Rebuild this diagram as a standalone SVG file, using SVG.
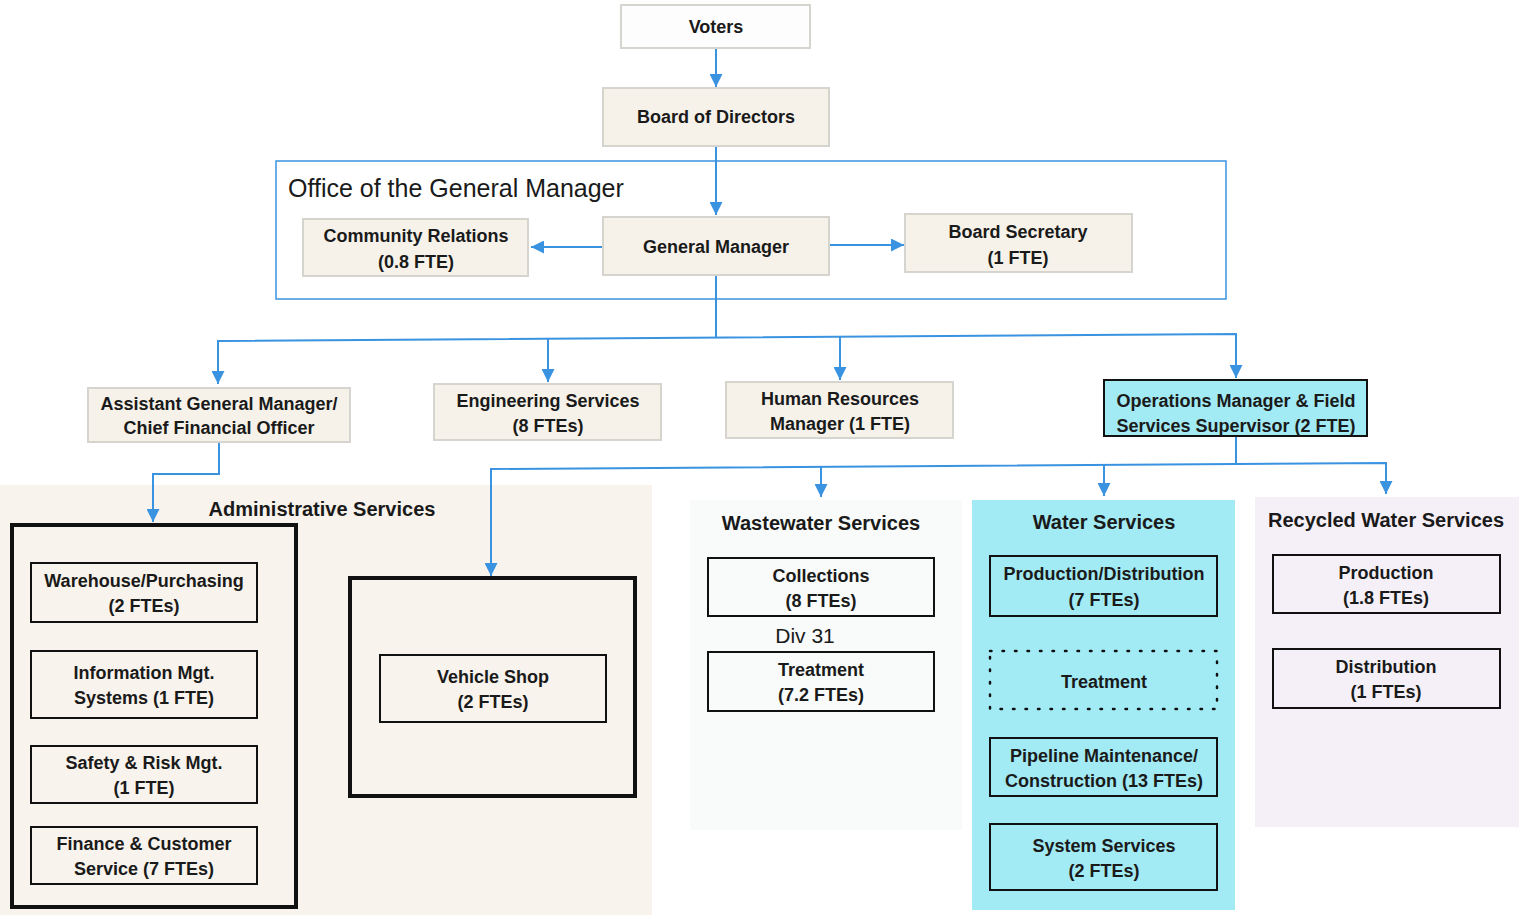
<svg xmlns="http://www.w3.org/2000/svg" width="1522" height="915" viewBox="0 0 1522 915">
<defs>
<style>
text{font-family:"Liberation Sans",Arial,sans-serif;fill:#1a1a1a;text-anchor:middle}
.b{font-weight:bold;font-size:18px}
.t{font-weight:bold;font-size:20px}
.top{fill:#f6f2ea;stroke:#d6d4cf;stroke-width:2}
.blk{fill:none;stroke:#111;stroke-width:2}
.thick{fill:none;stroke:#111;stroke-width:4}
.con{fill:none;stroke:#3a93e0;stroke-width:2}
</style>
<marker id="ah" viewBox="0 0 10 10" refX="10" refY="5" markerWidth="6.5" markerHeight="6.5" markerUnits="strokeWidth" orient="auto">
<path d="M0,0 L10,5 L0,10 z" fill="#3a93e0"/>
</marker>
</defs>
<rect width="1522" height="915" fill="#ffffff"/>

<g id="panels">
<rect x="0" y="485" width="652" height="430" fill="#f8f3ec"/>
<rect x="690" y="500" width="272" height="330" fill="#f8fbf9"/>
<rect x="972" y="500" width="263" height="410" fill="#a2eaf4"/>
<rect x="1255" y="497" width="264" height="330" fill="#f5f0f8"/>
</g>

<g id="office">
<rect x="276" y="161" width="950" height="138" fill="none" stroke="#3a93e0" stroke-width="1.5"/>
<text x="288" y="197" style="text-anchor:start;font-size:25px">Office of the General Manager</text>
</g>

<g id="connectors">
<path class="con" d="M716,48 V87" marker-end="url(#ah)"/>
<path class="con" d="M716,146 V215" marker-end="url(#ah)"/>
<path class="con" d="M603,247 H531" marker-end="url(#ah)"/>
<path class="con" d="M829,245 H904" marker-end="url(#ah)"/>
<path class="con" d="M716,275 V337"/>
<path class="con" d="M218,384 V341 L1236,334 V378" marker-end="url(#ah)"/>
<path class="con" d="M218,341 V384" marker-end="url(#ah)"/>
<path class="con" d="M548,339 V382" marker-end="url(#ah)"/>
<path class="con" d="M840,337 V380" marker-end="url(#ah)"/>
<path class="con" d="M219,442 V474 H153 V522" marker-end="url(#ah)"/>
<path class="con" d="M1236,436 V463"/>
<path class="con" d="M491,576 V469 L1386,463 V494" marker-end="url(#ah)"/>
<path class="con" d="M491,469 V576" marker-end="url(#ah)"/>
<path class="con" d="M821,467 V497" marker-end="url(#ah)"/>
<path class="con" d="M1104,465 V496" marker-end="url(#ah)"/>
</g>

<g id="voters"><rect x="621" y="5" width="189" height="43" fill="#fdfdfd" stroke="#d6d4cf" stroke-width="2"/><text class="b" x="716" y="33">Voters</text></g>
<g id="board"><rect class="top" x="603" y="88" width="226" height="58"/><text class="b" x="716" y="123">Board of Directors</text></g>
<g id="community"><rect class="top" x="303" y="219" width="225" height="57"/><text class="b" x="416" y="242">Community Relations</text><text class="b" x="416" y="268">(0.8 FTE)</text></g>
<g id="gm"><rect class="top" x="603" y="217" width="226" height="58"/><text class="b" x="716" y="253">General Manager</text></g>
<g id="secretary"><rect class="top" x="905" y="214" width="227" height="58"/><text class="b" x="1018" y="238">Board Secretary</text><text class="b" x="1018" y="264">(1 FTE)</text></g>

<g id="agm"><rect class="top" x="88" y="388" width="262" height="54"/><text class="b" x="219" y="410">Assistant General Manager/</text><text class="b" x="219" y="434">Chief Financial Officer</text></g>
<g id="engineering"><rect class="top" x="434" y="384" width="227" height="56"/><text class="b" x="548" y="407">Engineering Services</text><text class="b" x="548" y="432">(8 FTEs)</text></g>
<g id="hr"><rect class="top" x="726" y="382" width="227" height="56"/><text class="b" x="840" y="405">Human Resources</text><text class="b" x="840" y="430">Manager (1 FTE)</text></g>
<g id="ops"><rect x="1104" y="380" width="263" height="56" fill="#a2eaf4" stroke="#111" stroke-width="2"/><text class="b" x="1236" y="407">Operations Manager &amp; Field</text><text class="b" x="1236" y="432">Services Supervisor (2 FTE)</text></g>

<g id="admin">
<text class="t" x="322" y="516">Administrative Services</text>
<rect class="thick" x="12" y="525" width="284" height="382"/>
</g>
<g id="warehouse"><rect class="blk" x="31" y="563" width="226" height="59"/><text class="b" x="144" y="587">Warehouse/Purchasing</text><text class="b" x="144" y="612">(2 FTEs)</text></g>
<g id="ims"><rect class="blk" x="31" y="651" width="226" height="67"/><text class="b" x="144" y="679">Information Mgt.</text><text class="b" x="144" y="704">Systems (1 FTE)</text></g>
<g id="safety"><rect class="blk" x="31" y="746" width="226" height="57"/><text class="b" x="144" y="769">Safety &amp; Risk Mgt.</text><text class="b" x="144" y="794">(1 FTE)</text></g>
<g id="finance"><rect class="blk" x="31" y="827" width="226" height="57"/><text class="b" x="144" y="850">Finance &amp; Customer</text><text class="b" x="144" y="875">Service (7 FTEs)</text></g>

<g id="vehicle">
<rect class="thick" x="350" y="578" width="285" height="218"/>
<rect class="blk" x="380" y="655" width="226" height="67"/>
<text class="b" x="493" y="683">Vehicle Shop</text><text class="b" x="493" y="708">(2 FTEs)</text>
</g>

<g id="wastewater">
<text class="t" x="821" y="530">Wastewater Services</text>
<text x="805" y="643" style="font-size:21px">Div 31</text>
</g>
<g id="collections"><rect class="blk" x="708" y="558" width="226" height="58"/><text class="b" x="821" y="582">Collections</text><text class="b" x="821" y="607">(8 FTEs)</text></g>
<g id="ww-treatment"><rect class="blk" x="708" y="652" width="226" height="59"/><text class="b" x="821" y="676">Treatment</text><text class="b" x="821" y="701">(7.2 FTEs)</text></g>

<g id="water"><text class="t" x="1104" y="529">Water Services</text></g>
<g id="proddist"><rect class="blk" x="990" y="556" width="227" height="60"/><text class="b" x="1104" y="580">Production/Distribution</text><text class="b" x="1104" y="606">(7 FTEs)</text></g>
<g id="w-treatment"><rect x="990" y="651" width="227" height="58" fill="none" stroke="#111" stroke-width="2.5" stroke-dasharray="1.5 11" stroke-linecap="round"/><text class="b" x="1104" y="688">Treatment</text></g>
<g id="pipeline"><rect class="blk" x="990" y="738" width="227" height="58"/><text class="b" x="1104" y="762">Pipeline Maintenance/</text><text class="b" x="1104" y="787">Construction (13 FTEs)</text></g>
<g id="system"><rect class="blk" x="990" y="824" width="227" height="66"/><text class="b" x="1104" y="852">System Services</text><text class="b" x="1104" y="877">(2 FTEs)</text></g>

<g id="recycled"><text class="t" x="1386" y="527">Recycled Water Services</text></g>
<g id="rw-production"><rect class="blk" x="1273" y="555" width="227" height="58"/><text class="b" x="1386" y="579">Production</text><text class="b" x="1386" y="604">(1.8 FTEs)</text></g>
<g id="rw-distribution"><rect class="blk" x="1273" y="649" width="227" height="59"/><text class="b" x="1386" y="673">Distribution</text><text class="b" x="1386" y="698">(1 FTEs)</text></g>
</svg>
